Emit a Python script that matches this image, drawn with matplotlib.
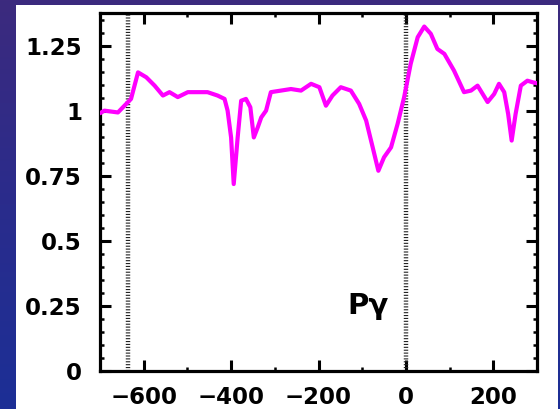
import numpy as np
import matplotlib
matplotlib.use("Agg")
import matplotlib.pyplot as plt
from matplotlib.ticker import MultipleLocator
from matplotlib.colors import LinearSegmentedColormap
from matplotlib.patches import Rectangle

# Line profile: velocity (km/s) vs normalised flux
velocity = [-700, -690, -659, -644, -629, -613, -594, -575, -556, -541, -522,
            -499, -476, -454, -431, -415, -408, -400, -394, -385, -377, -366,
            -356, -348, -339, -331, -320, -309, -286, -263, -240, -217, -198,
            -183, -168, -149, -126, -107, -91, -76, -63, -50, -34, -19, -4,
            11, 27, 42, 57, 72, 88, 110, 133, 149, 164, 187, 202, 213, 225,
            234, 242, 251, 263, 278, 290, 300]
flux = [0.99, 1.0, 0.993, 1.019, 1.045, 1.147, 1.128, 1.096, 1.058, 1.071,
        1.052, 1.071, 1.071, 1.071, 1.058, 1.045, 1.0, 0.897, 0.718, 0.897,
        1.038, 1.045, 1.013, 0.897, 0.936, 0.974, 1.0, 1.071, 1.077, 1.083,
        1.077, 1.103, 1.090, 1.019, 1.058, 1.090, 1.077, 1.026, 0.962, 0.859,
        0.769, 0.821, 0.859, 0.949, 1.052, 1.180, 1.282, 1.323, 1.295, 1.237,
        1.218, 1.154, 1.071, 1.077, 1.096, 1.033, 1.064, 1.103, 1.071, 0.987,
        0.885, 0.987, 1.096, 1.115, 1.109, 1.105]
marker_velocities = [-635, 0]
line_label = "Pγ"
x_ticks = [-600, -400, -200, 0, 200]
y_ticks = [0, 0.25, 0.5, 0.75, 1, 1.25]
y_tick_labels = ["0", "0.25", "0.5", "0.75", "1", "1.25"]

W, H = 560, 409
fig = plt.figure(figsize=(W / 100, H / 100), dpi=100)

# Slide-style background: blue/purple gradient with a white panel
bg = fig.add_axes([0, 0, 1, 1], zorder=-10)
cmap = LinearSegmentedColormap.from_list("bg", ["#3c2a7e", "#2a2c8c", "#1c2f96"])
grad = np.linspace(0, 1, 256).reshape(-1, 1)
bg.imshow(grad, aspect="auto", cmap=cmap, extent=[0, 1, 0, 1], origin="upper")
bg.set_xlim(0, 1)
bg.set_ylim(0, 1)
bg.axis("off")
fig.patches.append(Rectangle((16 / W, 0), (557.5 - 16) / W, (H - 5) / H,
                             transform=fig.transFigure, facecolor="white",
                             edgecolor="none", zorder=-5))

ax = fig.add_axes([100 / W, 1 - 371 / H, (537 - 100) / W, (371 - 13) / H])
ax.set_facecolor("white")

ax.plot(velocity, flux, color="#ff00ff", lw=3.0, solid_joinstyle="round",
        solid_capstyle="round", zorder=3)
for v in marker_velocities:
    ax.axvline(v, color="#222222", lw=3.2, linestyle=(0, (0.25, 0.4)),
               dash_capstyle="butt", zorder=2)

ax.text(-135, 0.22, line_label, fontsize=21, fontweight="bold",
        family="DejaVu Sans", ha="left", va="baseline")

ax.set_xlim(-700, 300)
ax.set_ylim(0, 1.375)
ax.set_xticks(x_ticks)
ax.set_yticks(y_ticks)
ax.set_yticklabels(y_tick_labels)
ax.xaxis.set_minor_locator(MultipleLocator(100))
ax.yaxis.set_minor_locator(MultipleLocator(0.05))

for s in ax.spines.values():
    s.set_linewidth(2.3)
ax.tick_params(which="both", direction="in", top=True, right=True,
               colors="black")
ax.tick_params(which="major", length=8, width=2.2)
ax.tick_params(which="minor", length=3, width=1.8)
ax.tick_params(axis="x", which="major", pad=11)
ax.tick_params(axis="y", which="major", pad=13)
for lab in ax.get_xticklabels() + ax.get_yticklabels():
    lab.set_fontsize(16.5)
    lab.set_fontweight("bold")
    lab.set_family("DejaVu Sans")

fig.savefig("out.png", dpi=100)
